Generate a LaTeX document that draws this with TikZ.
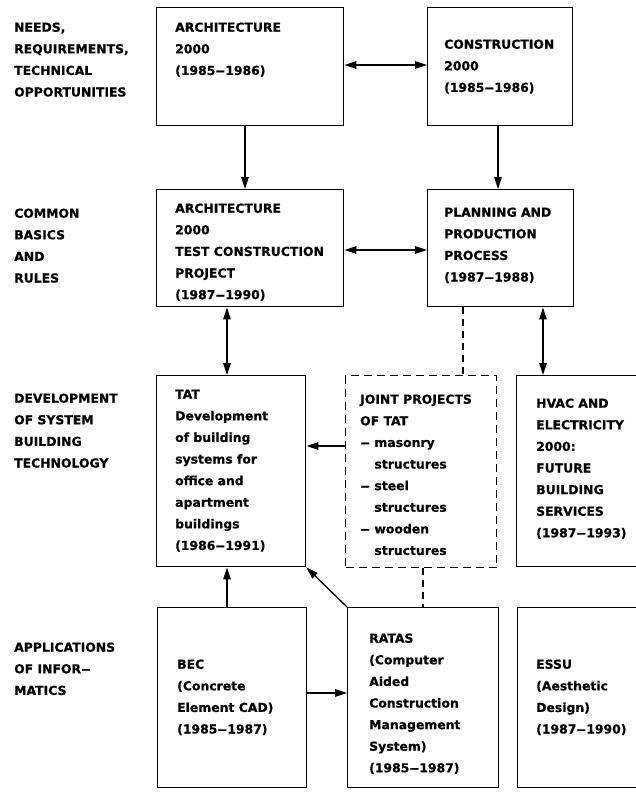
\documentclass[tikz,border=0pt]{standalone}
\usepackage{fontspec}
\setmainfont{DejaVu Sans}[BoldFeatures={FakeBold=0.6}]
\usetikzlibrary{arrows.meta}
\newcommand{\dsh}{\scalebox{1.6}[1]{–}}
\begin{document}
\begin{tikzpicture}[x=1pt,y=-1pt,
  box/.style={draw, line width=1.4pt, rectangle, inner sep=0pt, anchor=north west},
  dbox/.style={box, dash pattern=on 8pt off 5pt},
  txt/.style={anchor=north west, inner sep=0pt, align=left, font=\fontsize{12.4}{21.6}\selectfont\bfseries},
  conn/.style={line width=1.3pt},
  arr/.style={conn, -{Triangle[length=12pt,width=7.5pt]}},
  darr/.style={conn, {Triangle[length=12pt,width=7.5pt]}-{Triangle[length=12pt,width=7.5pt]}},
  dline/.style={conn, dash pattern=on 7pt off 5pt}]
\useasboundingbox (0,0) rectangle (636,796);
\clip (0,0) rectangle (636,796);

% left labels
\node[txt] (l1) at (14,16.4) {\strut NEEDS,\\REQUIREMENTS,\\TECHNICAL\\OPPORTUNITIES};
\node[txt] (l2) at (14,202.4) {\strut COMMON\\BASICS\\AND\\RULES};
\node[txt] (l3) at (14,387.4) {\strut DEVELOPMENT\\OF SYSTEM\\BUILDING\\TECHNOLOGY};
\node[txt] (l4) at (14,636.4) {\strut APPLICATIONS\\OF INFOR\dsh\\MATICS};

% boxes
\node[box, minimum width=187pt, minimum height=118pt] (a1) at (156,7) {};
\node[box, minimum width=145pt, minimum height=118pt] (c1) at (427,7) {};
\node[box, minimum width=187pt, minimum height=117pt] (a2) at (156,189) {};
\node[box, minimum width=146pt, minimum height=117pt] (p2) at (427,189) {};
\node[box, minimum width=149pt, minimum height=191pt] (t3) at (156,375) {};
\node[dbox, minimum width=151pt, minimum height=192pt] (j3) at (345,375) {};
\node[box, minimum width=150pt, minimum height=191pt] (h3) at (516,375) {};
\node[box, minimum width=149pt, minimum height=180pt] (b4) at (157,607) {};
\node[box, minimum width=151pt, minimum height=180pt] (r4) at (347,607) {};
\node[box, minimum width=150pt, minimum height=180pt] (e4) at (517,607) {};

% box texts
\node[txt] (ta1) at (175,16.4) {\strut ARCHITECTURE\\2000\\(1985\dsh1986)};
\node[txt] (tc1) at (444,33.4) {\strut CONSTRUCTION\\2000\\(1985\dsh1986)};
\node[txt] (ta2) at (175,197.4) {\strut ARCHITECTURE\\2000\\TEST CONSTRUCTION\\PROJECT\\(1987\dsh1990)};
\node[txt] (tp2) at (444,201.4) {\strut PLANNING AND\\PRODUCTION\\PROCESS\\(1987\dsh1988)};
\node[txt] (tt3) at (175,383.4) {\strut TAT\\Development\\of building\\systems for\\office and\\apartment\\buildings\\(1986\dsh1991)};
\node[txt] (tj3) at (360,388.4) {\strut JOINT PROJECTS\\OF TAT\\\dsh{} masonry\\\hphantom{\dsh{} }structures\\\dsh{} steel\\\hphantom{\dsh{} }structures\\\dsh{} wooden\\\hphantom{\dsh{} }structures};
\node[txt] (th3) at (536,392.4) {\strut HVAC AND\\ELECTRICITY\\2000:\\FUTURE\\BUILDING\\SERVICES\\(1987\dsh1993)};
\node[txt] (tb4) at (177,653.4) {\strut BEC\\(Concrete\\Element CAD)\\(1985\dsh1987)};
\node[txt] (tr4) at (369,627.4) {\strut RATAS\\(Computer\\Aided\\Construction\\Management\\System)\\(1985\dsh1987)};
\node[txt] (te4) at (536,653.4) {\strut ESSU\\(Aesthetic\\Design)\\(1987\dsh1990)};

% connectors
\draw[darr] (a1.east |- 0,65) -- (c1.west |- 0,65);
\draw[darr] (a2.east |- 0,250) -- (p2.west |- 0,250);
\draw[arr] (245,0 |- a1.south) -- (245,0 |- a2.north);
\draw[arr] (498,0 |- c1.south) -- (498,0 |- p2.north);
\draw[darr] (227,0 |- a2.south) -- (227,0 |- t3.north);
\draw[dline] (463,0 |- p2.south) -- (463,0 |- j3.north);
\draw[darr] (543,0 |- p2.south) -- (543,0 |- h3.north);
\draw[arr] (j3.west |- 0,446) -- (t3.east |- 0,446);
\draw[arr] (227,0 |- b4.north) -- (227,0 |- t3.south);
\draw[arr] (r4.north west) -- (t3.south east);
\draw[dline] (423,0 |- j3.south) -- (423,0 |- r4.north);
\draw[arr] (b4.east |- 0,693) -- (r4.west |- 0,693);
\end{tikzpicture}
\end{document}
